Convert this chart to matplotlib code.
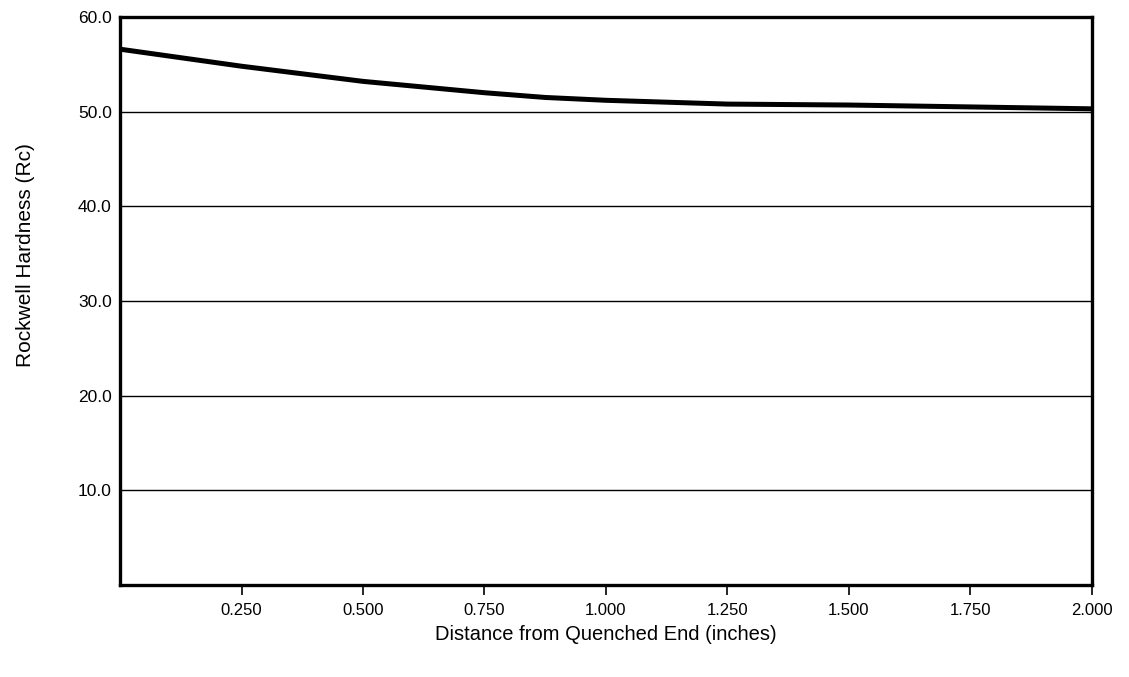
import matplotlib
matplotlib.use("Agg")
import matplotlib.pyplot as plt

# Jominy end-quench curve
distance = [0.0, 0.125, 0.25, 0.375, 0.5, 0.625, 0.75, 0.875, 1.0, 1.125, 1.25, 1.5, 1.75, 2.0]
hardness = [56.6, 55.7, 54.8, 54.0, 53.2, 52.6, 52.0, 51.5, 51.2, 51.0, 50.8, 50.7, 50.5, 50.3]

x_ticks = [0.25, 0.5, 0.75, 1.0, 1.25, 1.5, 1.75, 2.0]
x_labels = ['0.250', '0.500', '0.750', '1.000', '1.250', '1.500', '1.750', '2.000']
y_ticks = [10, 20, 30, 40, 50, 60]
y_labels = ['10.0', '20.0', '30.0', '40.0', '50.0', '60.0']

plt.rcParams['font.family'] = ['Liberation Sans', 'DejaVu Sans']

fig = plt.figure(figsize=(11.29, 6.77), dpi=100)
ax = fig.add_axes([0.1063, 0.1359, 0.8609, 0.839])

ax.plot(distance, hardness, color='black', linewidth=3.6, solid_capstyle='butt')

ax.set_xlim(0, 2.0)
ax.set_ylim(0, 60)
ax.set_xticks(x_ticks)
ax.set_xticklabels(x_labels, fontsize=12)
ax.set_yticks(y_ticks)
ax.set_yticklabels(y_labels, fontsize=12.5)

# horizontal grid only
ax.yaxis.grid(True, color='black', linewidth=1.0)
ax.set_axisbelow(True)

ax.tick_params(axis='x', direction='out', length=7, width=1.2, pad=6)
ax.tick_params(axis='y', length=0, pad=6)

for s in ax.spines.values():
    s.set_linewidth(2.4)
    s.set_color('black')

ax.set_xlabel('Distance from Quenched End (inches)', fontsize=14.5, labelpad=5)
# y label sits a bit above the axes centre in the original
fig.text(26 / 1129, 1 - 255 / 677, 'Rockwell Hardness (Rc)', fontsize=15,
         rotation=90, ha='center', va='center')

fig.savefig('out.png', dpi=100, facecolor='white')
